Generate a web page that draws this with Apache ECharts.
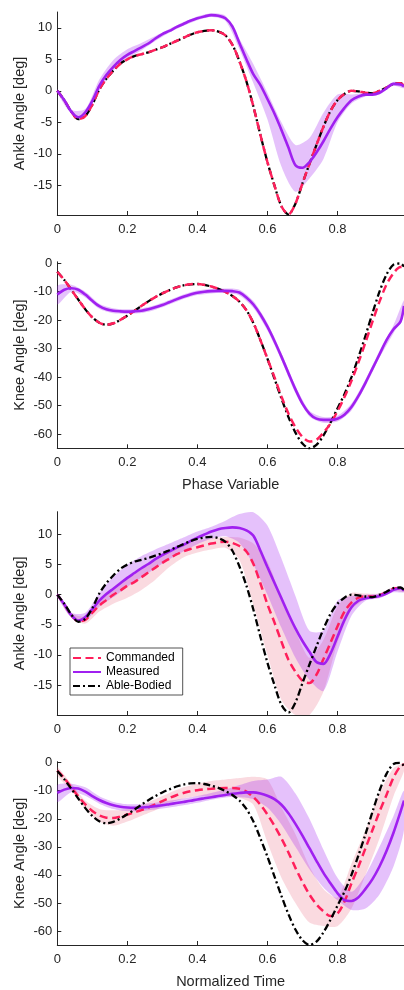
<!DOCTYPE html>
<html>
<head>
<meta charset="utf-8">
<script src="https://cdn.jsdelivr.net/npm/echarts@6/dist/echarts.min.js"></script>
<style>
html,body{margin:0;padding:0;background:#fff;}
#c{width:404px;height:990px;}
</style>
</head>
<body>
<div id="c"></div>
<script>
// ---- sample positions (normalized phase / time) ----
const X_LINE = [0,0.02,0.04,0.06,0.08,0.10,0.12,0.14,0.16,0.18,0.20,0.22,0.24,0.26,0.28,0.30,0.32,0.34,0.36,0.38,0.40,0.42,0.44,0.46,0.48,0.50,0.52,0.54,0.56,0.58,0.60,0.62,0.64,0.66,0.68,0.70,0.72,0.74,0.76,0.78,0.80,0.82,0.84,0.86,0.88,0.90,0.92,0.94,0.96,0.98,0.99];
const X_BAND = [0,0.04,0.08,0.12,0.16,0.20,0.24,0.28,0.32,0.36,0.40,0.44,0.48,0.52,0.56,0.60,0.64,0.68,0.72,0.76,0.80,0.84,0.88,0.92,0.96,0.99];

// ---- tick labels ----
const X_TICKS = [0,0.2,0.4,0.6,0.8];
const ANKLE_TICKS = [-15,-10,-5,0,5,10];
const KNEE_TICKS = [-60,-50,-40,-30,-20,-10,0];

// ---- able-bodied reference ----
const ablAnkle = [0,-1.5,-3.3,-4.5,-4.0,-2.2,0.2,1.9,3.2,4.3,5.0,5.5,5.8,6.1,6.5,6.9,7.4,7.9,8.4,8.9,9.3,9.5,9.6,9.4,8.8,7.3,4.7,1.5,-2.5,-7.0,-11.3,-15.0,-18.3,-19.6,-17.9,-14.7,-11.6,-8.6,-5.7,-3.2,-1.5,-0.5,0,-0.1,-0.3,-0.4,0,0.5,1.1,1.2,0.8];
const ablKnee = [-3.0,-5.9,-9.3,-12.8,-16.2,-19.0,-20.9,-21.6,-21.1,-19.9,-18.4,-16.8,-15.0,-13.4,-11.9,-10.6,-9.5,-8.5,-7.8,-7.4,-7.3,-7.6,-8.2,-9.0,-10.1,-11.5,-13.5,-16.5,-21.0,-27.0,-33.5,-40.5,-47.5,-54.0,-59.5,-63.3,-65.0,-63.8,-60.5,-56.0,-51.0,-46.0,-40.0,-33.0,-25.5,-17.5,-10.0,-4.0,-0.5,-0.1,-1.2];

// ---- panel 1: ankle vs phase variable ----
const comAnkleP = [0,-1.5,-3.3,-4.5,-4.0,-2.2,0.2,1.9,3.2,4.3,5.0,5.5,5.8,6.1,6.5,6.9,7.4,7.9,8.4,8.9,9.3,9.5,9.6,9.4,8.8,7.3,4.7,1.5,-2.5,-7.0,-11.3,-15.0,-18.3,-19.6,-17.9,-14.7,-11.6,-8.6,-5.7,-3.2,-1.5,-0.5,0,-0.1,-0.3,-0.4,0,0.5,1.1,1.2,0.8];
const meaAnkleP = [0,-1.5,-3.3,-4.2,-3.4,-1.6,0.8,2.5,3.8,4.9,5.7,6.3,6.9,7.5,8.3,9.0,9.5,10.1,10.6,11.1,11.5,11.8,12.0,11.9,11.5,10.2,7.6,5.0,2.6,0.9,-1.3,-3.6,-6.2,-9.0,-11.8,-12.2,-11.3,-9.8,-8.0,-6.0,-4.2,-2.7,-1.5,-0.9,-0.6,-0.6,-0.3,0.4,1.1,1.0,0.7];
const meaAnklePUp = [0.3,-3.0,-2.9,1.8,4.9,6.6,7.6,8.7,9.8,10.9,11.8,12.3,11.9,8.2,4.2,-0.3,-5.0,-8.6,-7.5,-3.5,-0.6,-0.6,-0.3,0.0,1.4,1.0];
const meaAnklePLo = [-0.3,-3.6,-3.9,0.0,3.2,5.2,6.4,7.9,9.2,10.3,11.2,11.7,11.1,6.6,1.2,-4.5,-12.0,-16.0,-13.9,-10.8,-5.0,-2.0,-0.9,-0.6,0.8,0.4];

// ---- panel 2: knee vs phase variable ----
const comKneeP = [-3.0,-5.9,-9.3,-12.8,-16.2,-19.0,-20.9,-21.6,-21.1,-19.9,-18.4,-16.8,-15.0,-13.4,-11.9,-10.6,-9.5,-8.5,-7.8,-7.4,-7.3,-7.6,-8.2,-9.0,-10.1,-11.5,-13.5,-16.5,-21.0,-27.0,-33.5,-40.0,-46.8,-52.8,-57.6,-61.0,-62.6,-62.0,-59.5,-56.3,-52.0,-47.0,-41.3,-34.8,-27.8,-20.5,-13.5,-7.5,-3.5,-1.3,-1.3];
const meaKneeP = [-11.0,-9.3,-8.8,-9.3,-11.0,-13.2,-15.1,-16.2,-16.7,-16.9,-17.0,-16.9,-16.7,-16.2,-15.5,-14.7,-13.7,-12.7,-11.8,-11.0,-10.4,-10.0,-9.8,-9.7,-9.7,-9.8,-10.3,-12.0,-14.5,-18.0,-22.3,-27.3,-32.8,-38.6,-44.3,-49.3,-52.8,-54.6,-55.0,-55.0,-54.6,-53.2,-50.5,-46.6,-42.0,-37.0,-32.0,-27.0,-23.2,-20.5,-15.0];
const meaKneePUp = [-8.0,-7.6,-10.0,-14.2,-15.8,-16.2,-15.9,-14.7,-12.9,-11.0,-9.6,-9.0,-8.9,-9.3,-13.3,-21.0,-31.5,-43.0,-51.8,-54.0,-53.6,-49.3,-40.8,-30.8,-21.8,-13.0];
const meaKneePLo = [-14.5,-10.0,-12.0,-16.0,-17.6,-17.8,-17.5,-16.3,-14.5,-12.6,-11.2,-10.6,-10.5,-11.3,-15.7,-23.6,-34.1,-45.6,-53.8,-56.0,-55.6,-51.7,-43.2,-33.2,-24.6,-17.5];

// ---- panel 3: ankle vs normalized time ----
const comAnkleT = [0,-1.6,-3.4,-4.4,-4.2,-3.0,-1.8,-0.9,0.0,0.7,1.5,2.1,2.9,3.7,4.5,5.3,6.0,6.7,7.2,7.6,7.9,8.2,8.5,8.7,8.8,8.6,8.1,7.2,5.1,1.9,-1.6,-4.6,-7.8,-10.8,-12.8,-14.3,-14.7,-13.3,-10.7,-8.0,-5.3,-2.8,-1.3,-0.5,-0.3,-0.3,-0.1,0.4,1.0,1.1,0.8];
const meaAnkleT = [0,-1.6,-3.4,-4.3,-3.7,-2.4,-1.0,0.1,1.0,1.9,2.8,3.6,4.4,5.1,5.9,6.6,7.2,7.8,8.3,8.9,9.5,10.0,10.5,10.9,11.1,11.2,11.1,10.7,9.8,7.3,4.6,2.0,-0.6,-3.2,-5.6,-7.7,-9.5,-11.2,-11.5,-9.8,-7.0,-4.2,-2.1,-1.0,-0.6,-0.4,-0.2,0.2,0.8,1.1,0.7];
const meaAnkleTUp = [0.3,-3.0,-3.0,0.3,3.0,5.0,6.4,7.5,8.5,9.5,10.5,11.3,12.3,13.4,13.7,11.5,6.0,-0.2,-6.0,-6.0,-1.0,-0.2,0.0,0.2,1.2,1.0];
const meaAnkleTLo = [-0.3,-3.8,-4.3,-2.0,-0.4,1.3,2.8,4.4,5.9,7.2,8.4,9.3,9.7,8.6,5.0,0.0,-5.5,-10.5,-14.2,-16.0,-9.5,-3.5,-1.0,-0.6,0.4,0.4];
const comAnkleTUp = [0.3,-3.0,-3.6,-0.8,1.2,2.8,4.2,5.6,7.0,8.2,9.0,9.4,9.6,9.5,8.5,5.5,-0.5,-6.0,-10.5,-7.5,-2.0,0.3,0.2,0.2,1.3,1.0];
const comAnkleTLo = [-0.3,-3.8,-4.8,-2.8,-1.5,-0.5,0.8,2.5,4.6,6.2,7.0,7.5,7.8,5.8,-1.7,-10.0,-17.5,-20.0,-20.0,-16.1,-8.0,-2.5,-0.8,-0.5,0.7,0.4];

// ---- panel 4: knee vs normalized time ----
const comKneeT = [-2.8,-5.5,-8.8,-12.0,-14.9,-17.2,-18.8,-19.6,-19.7,-19.2,-18.5,-17.7,-16.9,-16.0,-14.9,-13.7,-12.6,-11.6,-10.8,-10.2,-9.8,-9.5,-9.3,-9.1,-9.0,-9.0,-9.3,-10.3,-12.3,-15.0,-18.5,-22.5,-27.0,-32.0,-37.5,-42.5,-47.0,-50.5,-53.0,-54.7,-53.8,-49.5,-43.0,-37.0,-30.5,-24.0,-17.5,-11.5,-5.3,-1.2,-0.6];
const meaKneeT = [-10.8,-9.6,-9.0,-9.2,-10.3,-11.9,-13.3,-14.4,-15.2,-15.7,-16.0,-16.1,-16.0,-15.8,-15.5,-15.2,-14.8,-14.4,-14.0,-13.6,-13.1,-12.7,-12.3,-11.9,-11.5,-11.1,-10.8,-10.6,-10.6,-11.0,-11.8,-13.0,-15.0,-18.0,-21.8,-26.0,-30.5,-35.0,-39.3,-43.0,-46.5,-49.0,-49.3,-48.0,-45.0,-41.5,-37.0,-31.5,-25.0,-17.5,-13.5];
const meaKneeTUp = [-8.0,-7.5,-8.8,-12.0,-14.0,-14.8,-14.8,-14.3,-13.6,-12.8,-11.9,-10.8,-9.6,-8.0,-6.5,-6.0,-5.0,-11.0,-20.0,-31.0,-41.0,-46.0,-40.0,-30.0,-19.0,-10.0];
const meaKneeTLo = [-14.0,-10.5,-11.8,-14.6,-16.5,-17.3,-17.2,-16.7,-16.0,-15.2,-14.3,-13.2,-12.4,-12.3,-13.0,-16.0,-22.0,-30.0,-38.0,-44.5,-49.0,-52.5,-52.0,-47.0,-37.0,-24.0];
const comKneeTUp = [-1.5,-7.5,-13.5,-16.5,-17.0,-16.5,-15.0,-13.0,-10.8,-8.8,-7.5,-6.5,-6.0,-5.5,-5.0,-6.0,-16.0,-25.5,-37.0,-45.0,-48.0,-36.0,-24.0,-11.0,-2.0,-0.3];
const comKneeTLo = [-4.5,-10.0,-16.5,-21.0,-22.5,-21.0,-19.0,-17.0,-14.5,-12.8,-12.0,-12.0,-12.0,-12.5,-15.0,-28.5,-41.0,-50.0,-57.0,-58.2,-58.3,-52.0,-40.0,-27.0,-12.0,-3.0];

// ---- styling ----
const FONT = "'Liberation Sans', Arial, Helvetica, sans-serif";
const AX = '#262626';
const RED = '#ff1f5b';
const PURPLE = '#a020f0';
const BLACK = '#000000';
const PURPLE_BAND = 'rgba(160,32,240,0.28)';
const PINK_BAND = 'rgba(230,70,100,0.2)';

const grids = [
  {left:57.3, top:12, width:347, height:203},
  {left:57.3, top:261.8, width:347, height:186.5},
  {left:57.3, top:511.7, width:347, height:203.3},
  {left:57.3, top:761.7, width:347, height:186}
];
const yRanges = [[-19.7,12.5],[-65,0.5],[-20,13.8],[-65,0.35]];
const yNames = ['Ankle Angle [deg]','Knee Angle [deg]','Ankle Angle [deg]','Knee Angle [deg]'];
const xNames = ['', 'Phase Variable', '', 'Normalized Time'];

function xAxis(i){
  return {
    type:'value', gridIndex:i, min:0, max:0.99,
    axisLine:{show:true, onZero:false, lineStyle:{color:AX, width:1}},
    axisTick:{show:true, inside:true, length:4, lineStyle:{color:AX, width:1}, customValues:X_TICKS},
    axisLabel:{customValues:X_TICKS, color:AX, fontSize:13, fontFamily:FONT, margin:8,
      formatter:v=>String(+v.toFixed(1))},
    splitLine:{show:false},
    name:xNames[i], nameLocation:'middle', nameGap:29, nameMoveOverlap:false,
    nameTextStyle:{color:AX, fontSize:14.5, fontFamily:FONT}
  };
}
function yAxis(i){
  const ticks = (i % 2 === 0) ? ANKLE_TICKS : KNEE_TICKS;
  return {
    type:'value', gridIndex:i, min:yRanges[i][0], max:yRanges[i][1],
    axisLine:{show:true, onZero:false, lineStyle:{color:AX, width:1}},
    axisTick:{show:true, inside:true, length:4, lineStyle:{color:AX, width:1}, customValues:ticks},
    axisLabel:{customValues:ticks, color:AX, fontSize:13, fontFamily:FONT, margin:5},
    splitLine:{show:false},
    name:yNames[i], nameLocation:'middle', nameGap:30, nameRotate:90, nameMoveOverlap:false,
    nameTextStyle:{color:AX, fontSize:14.5, fontFamily:FONT}
  };
}

function pairs(xs, ys){ return xs.map((x,k)=>[x, ys[k]]); }

function band(i, up, lo, color){
  return {
    type:'custom', xAxisIndex:i, yAxisIndex:i, silent:true, clip:true, z:1,
    data:[[0.5, yRanges[i][0]]],
    renderItem:function(params, api){
      const pts = [];
      for (let k = 0; k < X_BAND.length; k++) pts.push(api.coord([X_BAND[k], up[k]]));
      for (let k = X_BAND.length - 1; k >= 0; k--) pts.push(api.coord([X_BAND[k], lo[k]]));
      return {type:'polygon', shape:{points:pts, smooth:0.25}, style:{fill:color, stroke:null}};
    }
  };
}

const STY = {
  'Commanded': {color:RED, width:2.5, type:[8,4.5]},
  'Measured': {color:PURPLE, width:2.6, type:'solid'},
  'Able-Bodied': {color:BLACK, width:2.3, type:[7,3,2,3]}
};
function line(i, name, ys, z){
  const s = STY[name];
  return {
    type:'line', name:name, xAxisIndex:i, yAxisIndex:i, z:z,
    data:pairs(X_LINE, ys), showSymbol:false, symbol:'none', smooth:0.3,
    lineStyle:{color:s.color, width:s.width, type:s.type},
    itemStyle:{color:s.color}, emphasis:{disabled:true}, animation:false
  };
}

const series = [
  band(0, meaAnklePUp, meaAnklePLo, PURPLE_BAND),
  line(0, 'Able-Bodied', ablAnkle, 3),
  line(0, 'Commanded', comAnkleP, 4),
  line(0, 'Measured', meaAnkleP, 5),

  band(1, meaKneePUp, meaKneePLo, PURPLE_BAND),
  line(1, 'Able-Bodied', ablKnee, 3),
  line(1, 'Commanded', comKneeP, 4),
  line(1, 'Measured', meaKneeP, 5),

  band(2, comAnkleTUp, comAnkleTLo, PINK_BAND),
  band(2, meaAnkleTUp, meaAnkleTLo, PURPLE_BAND),
  line(2, 'Commanded', comAnkleT, 3),
  line(2, 'Measured', meaAnkleT, 4),
  line(2, 'Able-Bodied', ablAnkle, 5),

  band(3, comKneeTUp, comKneeTLo, PINK_BAND),
  band(3, meaKneeTUp, meaKneeTLo, PURPLE_BAND),
  line(3, 'Commanded', comKneeT, 3),
  line(3, 'Measured', meaKneeT, 4),
  line(3, 'Able-Bodied', ablKnee, 5)
];

const chart = echarts.init(document.getElementById('c'), null, {renderer:'canvas'});
chart.setOption({
  animation:false,
  backgroundColor:'#ffffff',
  grid:grids,
  xAxis:[0,1,2,3].map(xAxis),
  yAxis:[0,1,2,3].map(yAxis),
  legend:{
    data:['Commanded','Measured','Able-Bodied'],
    orient:'vertical', left:70, top:648,
    itemWidth:28, itemHeight:14, itemGap:2,
    padding:[4,8,3,2],
    itemStyle:{opacity:0},
    backgroundColor:'#ffffff', borderColor:AX, borderWidth:0.8,
    textStyle:{color:'#000', fontSize:12, fontFamily:FONT},
    selectedMode:false
  },
  series:series
});
</script>
</body>
</html>
